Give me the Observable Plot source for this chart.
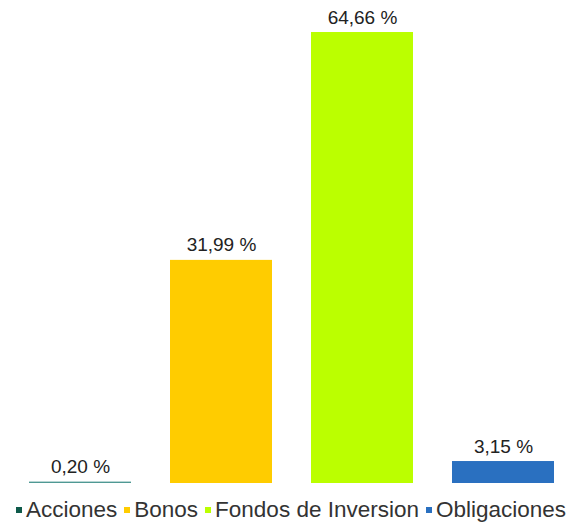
<!DOCTYPE html>
<html>
<head>
<meta charset="utf-8">
<script src="https://cdn.jsdelivr.net/npm/d3@7"></script>
<script src="https://cdn.jsdelivr.net/npm/@observablehq/plot@0.6"></script>
<style>
  html, body { margin: 0; padding: 0; background: #fff; }
  body { width: 582px; height: 524px; overflow: hidden; font-family: "Liberation Sans", Arial, sans-serif; }
  .legend { display: flex; justify-content: center; align-items: center; gap: 7px; font-size: 22.5px; color: #333; height: 36px; line-height: 36px; padding-top: 2px; }
  .legend span.item { display: inline-flex; align-items: center; }
  .legend span.sw { display: inline-block; width: 6px; height: 6px; margin-right: 4px; }
</style>
</head>
<body>
<div id="chart"></div>
<div class="legend" id="legend"></div>
<script>
const categories = ["Acciones", "Bonos", "Fondos de Inversion", "Obligaciones"];
const values = [0.20, 31.99, 64.66, 3.15];
const labels = ["0,20 %", "31,99 %", "64,66 %", "3,15 %"];
const colors = ["#0e5a4a", "#ffcc00", "#bbff00", "#2a70c0"];

const data = categories.map((c, i) => ({cat: c, value: values[i], label: labels[i], color: colors[i]}));

const chart = Plot.plot({
  width: 582,
  height: 490,
  marginTop: 0,
  marginBottom: 7,
  marginLeft: 28,
  marginRight: 28,
  style: {fontFamily: "Liberation Sans, Arial, sans-serif", background: "#fff"},
  x: {domain: categories, paddingInner: 0.278, paddingOuter: 0, axis: null},
  y: {domain: [0, 69.25], axis: null},
  marks: [
    Plot.barY(data, {x: "cat", y: "value", fill: d => d.cat === "Acciones" ? "#4f9994" : d.color}),
    Plot.text(data, {x: "cat", y: "value", text: "label", dy: -15, fontSize: 19, fill: "#222"})
  ]
});
document.getElementById("chart").appendChild(chart);

const lg = document.getElementById("legend");
categories.forEach((c, i) => {
  const item = document.createElement("span");
  item.className = "item";
  const sw = document.createElement("span");
  sw.className = "sw";
  sw.style.background = colors[i];
  item.appendChild(sw);
  item.appendChild(document.createTextNode(c));
  lg.appendChild(item);
});
</script>
</body>
</html>
